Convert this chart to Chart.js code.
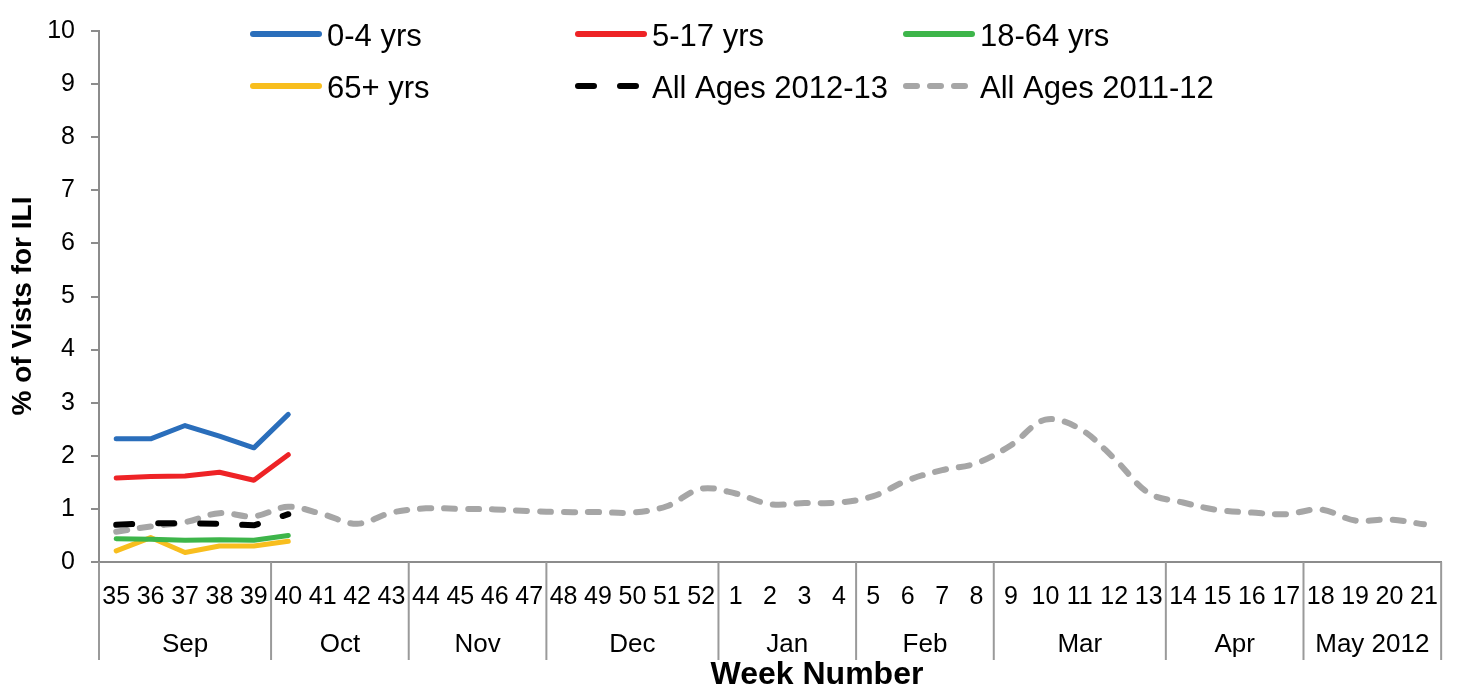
<!DOCTYPE html>
<html>
<head>
<meta charset="utf-8">
<script src="https://cdn.jsdelivr.net/npm/chart.js@4.4.1/dist/chart.umd.min.js"></script>
<style>
  html, body { margin: 0; padding: 0; background: #fff; }
</style>
</head>
<body>
<canvas id="myChart" width="1458" height="686"></canvas>
<script>
// week numbers, Sep 2011 .. May 2012
const weeks = ['35','36','37','38','39','40','41','42','43','44','45','46','47','48','49','50','51','52',
  '1','2','3','4','5','6','7','8','9','10','11','12','13','14','15','16','17','18','19','20','21']
const months = ['Sep','Oct','Nov','Dec','Jan','Feb','Mar','Apr','May 2012']
const monthWeekCount = [5, 4, 4, 5, 4, 4, 5, 4, 4]
const yMax = 10

// 2012-13 season so far (weeks 35-40)
const ages0to4 = [2.32, 2.32, 2.57, 2.37, 2.15, 2.78]
const ages5to17 = [1.58, 1.61, 1.62, 1.69, 1.54, 2.02]
const ages18to64 = [0.44, 0.43, 0.41, 0.42, 0.41, 0.50]
const ages65plus = [0.21, 0.46, 0.18, 0.30, 0.30, 0.39]
const allAges1213 = [0.70, 0.73, 0.73, 0.72, 0.69, 0.90]
// full 2011-12 season
const allAges1112 = [0.57, 0.67, 0.75, 0.92, 0.86, 1.04, 0.90, 0.72, 0.93, 1.01, 1.00, 0.99, 0.96,
  0.94, 0.94, 0.93, 1.05, 1.38, 1.29, 1.09, 1.11, 1.12, 1.24, 1.54, 1.73, 1.86, 2.20, 2.68, 2.51,
  1.95, 1.30, 1.12, 0.98, 0.93, 0.90, 0.99, 0.78, 0.80, 0.71]

const FONT = '"Liberation Sans", Arial, sans-serif'

// missing weeks stay empty
function pad(vals){
    return vals.concat(Array(weeks.length - vals.length).fill(null))
}

function lineSet(label, values, color, dash, smooth){
    return {
        label: label,
        data: pad(values),
        borderColor: color,
        backgroundColor: color,
        borderWidth: dash ? 6 : 5,
        borderDash: dash || [],
        borderCapStyle: 'round',
        borderJoinStyle: 'round',
        pointRadius: 0,
        tension: smooth ? 0.35 : 0,
        spanGaps: false,
        fill: false
    }
}

// legend, month groups and axis titles
const extras = {
    id: 'extras',
    afterDraw(chart){
        const ctx = chart.ctx
        const x = chart.scales.x
        ctx.save()

        // month group separators below the week labels
        let edges = [x.left]
        let idx = 0
        monthWeekCount.forEach(n => {
            idx += n
            if (idx < weeks.length){
                edges.push((x.getPixelForValue(idx - 1) + x.getPixelForValue(idx)) / 2)
            } else {
                edges.push(x.right)
            }
        })
        ctx.strokeStyle = '#9a9a9a'
        ctx.lineWidth = 2
        edges.forEach(e => {
            ctx.beginPath()
            ctx.moveTo(e, x.top)
            ctx.lineTo(e, x.top + 98)
            ctx.stroke()
        })

        ctx.fillStyle = '#000'
        ctx.font = '26px ' + FONT
        ctx.textAlign = 'center'
        ctx.textBaseline = 'alphabetic'
        months.forEach((m, i) => {
            ctx.fillText(m, (edges[i] + edges[i + 1]) / 2, x.top + 90)
        })

        ctx.font = 'bold 32px ' + FONT
        ctx.fillText('Week Number', 817, 684)

        // y title
        ctx.save()
        ctx.translate(23, 306)
        ctx.rotate(-Math.PI / 2)
        ctx.font = 'bold 28px ' + FONT
        ctx.textBaseline = 'middle'
        ctx.fillText('% of Vists for ILI', 0, 0)
        ctx.restore()

        // legend, 3 columns x 2 rows
        const cols = [250, 575, 903]
        const rows = [34, 86]
        chart.data.datasets.forEach((ds, i) => {
            const lx = cols[i % 3]
            const ly = rows[Math.floor(i / 3)]
            ctx.strokeStyle = ds.borderColor
            ctx.lineWidth = 6
            ctx.lineCap = 'round'
            ctx.setLineDash(ds.borderDash)
            ctx.beginPath()
            ctx.moveTo(lx + 3, ly)
            ctx.lineTo(lx + 69, ly)
            ctx.stroke()
            ctx.setLineDash([])
            ctx.fillStyle = '#000'
            ctx.font = '31px ' + FONT
            ctx.textAlign = 'left'
            ctx.textBaseline = 'alphabetic'
            ctx.fillText(ds.label, lx + 77, ly + 12)
        })

        ctx.restore()
    }
}

new Chart('myChart', {
    type: 'line',
    data: {
        labels: weeks,
        datasets: [
            lineSet('0-4 yrs', ages0to4, '#2A6EBB'),
            lineSet('5-17 yrs', ages5to17, '#EE2326'),
            lineSet('18-64 yrs', ages18to64, '#3DB54A'),
            lineSet('65+ yrs', ages65plus, '#F8BE1E'),
            lineSet('All Ages 2012-13', allAges1213, '#000000', [16, 26]),
            lineSet('All Ages 2011-12', allAges1112, '#A6A6A6', [11, 13], true)
        ]
    },
    options: {
        responsive: false,
        animation: false,
        layout: { padding: { top: 22, right: 12, left: 0, bottom: 0 } },
        plugins: {
            legend: { display: false },
            tooltip: { enabled: false }
        },
        scales: {
            x: {
                offset: true,
                grid: { display: false, drawTicks: false },
                border: { color: '#8c8c8c', width: 2 },
                ticks: {
                    autoSkip: false,
                    maxRotation: 0,
                    color: '#000',
                    padding: 20,
                    font: { family: FONT, size: 25 }
                },
                afterFit(s){ s.height = 124 }
            },
            y: {
                min: 0,
                max: yMax,
                grid: { drawOnChartArea: false, drawTicks: true, tickLength: 8, color: '#8c8c8c', lineWidth: 2 },
                border: { color: '#8c8c8c', width: 2 },
                ticks: {
                    stepSize: 1,
                    color: '#000',
                    padding: 16,
                    font: { family: FONT, size: 25 }
                },
                afterFit(s){ s.width = 99 }
            }
        }
    },
    plugins: [extras]
})
</script>
</body>
</html>
